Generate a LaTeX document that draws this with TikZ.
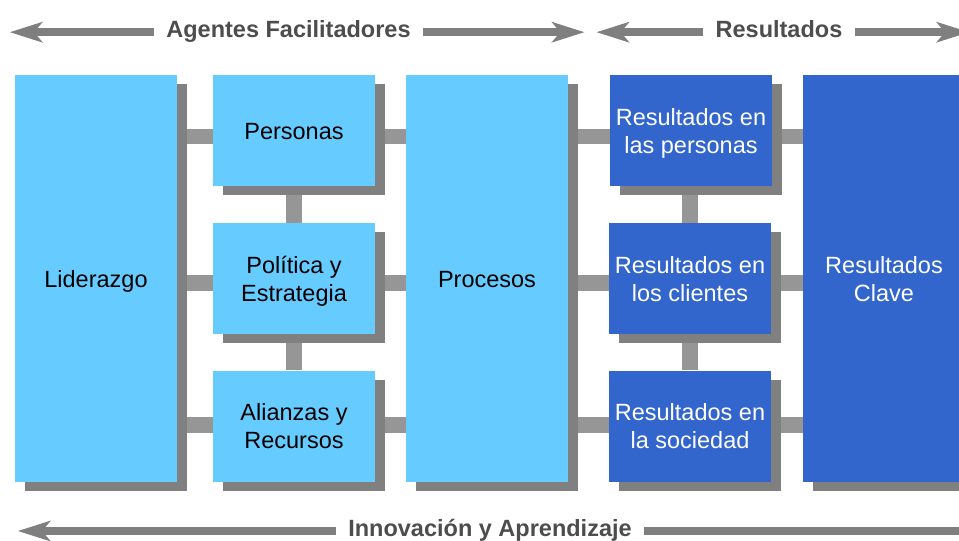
\documentclass[tikz,border=0pt]{standalone}
\usepackage{fontspec}
\setmainfont{Liberation Sans}
\usetikzlibrary{shadows,backgrounds,arrows.meta}
\definecolor{lblue}{HTML}{66CCFF}
\definecolor{dblue}{HTML}{3366CC}
\definecolor{shadowc}{HTML}{808080}
\definecolor{connc}{HTML}{969696}
\definecolor{arrowc}{HTML}{7F7F7F}
\definecolor{titlec}{HTML}{4D4D4D}
\newcommand{\topstrut}{\rule{0pt}{23.5pt}}
\newcommand{\botstrut}{\rule[-6pt]{0pt}{6pt}}
\begin{document}
\begin{tikzpicture}[x=1pt,y=-1pt,
  box/.style={draw=none, minimum width=162pt, inner sep=0pt, align=center,
    font=\fontsize{23.5}{28}\selectfont,
    drop shadow={shadow xshift=9.5pt,shadow yshift=-9pt,fill=shadowc,opacity=1}},
  tall/.style={minimum height=406.7pt},
  short/.style={minimum height=111pt},
  agent/.style={box, fill=lblue, text=black},
  result/.style={box, fill=dblue, text=white},
  conn/.style={draw=connc, line width=15.5pt},
  band/.style={draw=arrowc, line width=7.7pt},
  bandtip/.style={band, -{Stealth[length=33pt,width=21pt,inset=9pt,line width=0pt]}},
  title/.style={font=\bfseries\fontsize{23.5}{28}\selectfont, text=titlec,
    inner xsep=12.5pt, inner ysep=0pt, anchor=base}]
\useasboundingbox (0,0) rectangle (959,541);
\clip (0,0) rectangle (959,541);

% boxes
\node[agent,tall]   (lid) at (96,278.4)   {\topstrut Liderazgo\botstrut};
\node[agent,short]  (per) at (294,130.5)  {\topstrut Personas\botstrut};
\node[agent,short]  (pol) at (294,278.5)  {\topstrut Política y\\Estrategia\botstrut};
\node[agent,short]  (ali) at (294,426)    {\topstrut Alianzas y\\Recursos\botstrut};
\node[agent,tall]   (pro) at (487,278.4)  {\topstrut Procesos\botstrut};
\node[result,short] (rp)  at (691,130.5)  {\topstrut Resultados en\\las personas\botstrut};
\node[result,short] (rc)  at (690,278.5)  {\topstrut Resultados en\\los clientes\botstrut};
\node[result,short] (rs)  at (690,426)    {\topstrut Resultados en\\la sociedad\botstrut};
\node[result,tall]  (rk)  at (884,278.4)  {\topstrut Resultados\\Clave\botstrut};

% connectors
\coordinate (r1) at (0,136.7);
\coordinate (r2) at (0,283);
\coordinate (r3) at (0,425);
\begin{scope}[on background layer]
  \foreach \a/\b in {lid/per,per/pro,pro/rp,rp/rk}
    \draw[conn] (\a.center |- r1) -- (\b.center |- r1);
  \foreach \a/\b in {lid/pol,pol/pro,pro/rc,rc/rk}
    \draw[conn] (\a.center |- r2) -- (\b.center |- r2);
  \foreach \a/\b in {lid/ali,ali/pro,pro/rs,rs/rk}
    \draw[conn] (\a.center |- r3) -- (\b.center |- r3);
  \draw[conn] (per) -- (pol);
  \draw[conn] (pol) -- (ali);
  \draw[conn] (rc.center |- rp.center) -- (rc);
  \draw[conn] (rc) -- (rs);
\end{scope}

% top and bottom bands
\coordinate (a1l) at (10,32.2);
\coordinate (a1r) at (584.3,32.2);
\coordinate (a2l) at (596.7,32.2);
\coordinate (a2r) at (969,32.2);
\coordinate (a3l) at (18,531);
\coordinate (a3r) at (966,531);
\node[title] (ta) at (288.5,37.3) {Agentes Facilitadores};
\node[title] (tr) at (779,37.3)   {Resultados};
\node[title] (ti) at (490,536.8)  {Innovación y Aprendizaje};
\draw[bandtip] (ta.west |- a1l) -- (a1l);
\draw[bandtip] (ta.east |- a1r) -- (a1r);
\draw[bandtip] (tr.west |- a2l) -- (a2l);
\draw[bandtip] (tr.east |- a2r) -- (a2r);
\draw[bandtip] (ti.west |- a3l) -- (a3l);
\draw[band]    (ti.east |- a3r) -- (a3r);
\end{tikzpicture}
\end{document}
